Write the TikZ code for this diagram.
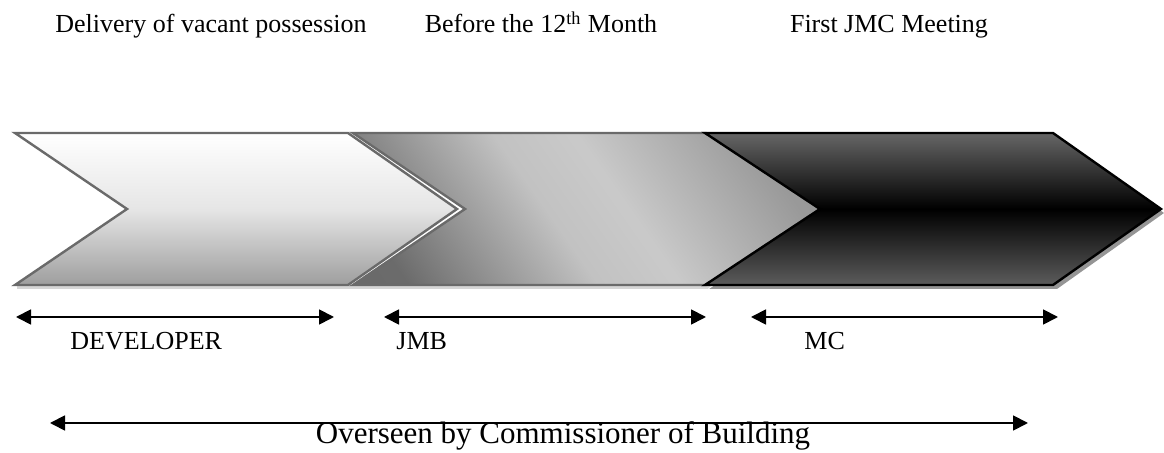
\documentclass[tikz,border=0pt]{standalone}
\usepackage{fontspec}
\setmainfont{Liberation Serif}
\usetikzlibrary{arrows.meta}

\definecolor{edgegrey}{HTML}{6A6A6A}
\definecolor{shadegrey}{HTML}{D6D6D6}
\definecolor{darkshade}{HTML}{959595}
\newcommand{\lbl}{\fontsize{13}{15}\selectfont}
\pgfdeclareverticalshading{jmbshade}{100bp}{color(0bp)=(black!60); color(22bp)=(black!58);
  color(45bp)=(black!24); color(55bp)=(black!21); color(76bp)=(black!40); color(100bp)=(black!45)}

\begin{document}
\begin{tikzpicture}[x=0.5pt, y=-0.5pt,
    stage/.style={line width=1.2pt, line join=miter},
    span/.style={line width=0.9pt, arrows={Triangle[length=7.5pt,width=7.5pt]-Triangle[length=7.5pt,width=7.5pt]}},
    tag/.style={font=\lbl, anchor=base, inner sep=0pt}]
  \useasboundingbox (0,0) rectangle (1164,453);
  % shadows
  \fill[shadegrey] (17,289) -- (352,289) -- (360,285) -- (17,285) -- cycle;
  \fill[shadegrey] (352,289) -- (708,289) -- (712,285) -- (352,285) -- cycle;
  \fill[darkshade, shift={(4,4)}] (705,133) -- (1053,133) -- (1160,209) -- (1053,285) -- (705,285) -- (820,209) -- cycle;
  % stages
  \draw[stage, draw=edgegrey, top color=white, bottom color=black!38, middle color=white!90!black]
    (15,133) -- (348,133) -- (457,209) -- (348,285) -- (15,285) -- (127,209) -- cycle;
  \draw[stage, draw=edgegrey, shading=jmbshade, shading angle=-55]
    (353,133) -- (706,133) -- (820,209) -- (706,285) -- (353,285) -- (465,209) -- cycle;
  \draw[stage, draw=black, top color=black!60, bottom color=black!64, middle color=black]
    (705,133) -- (1053,133) -- (1161,209) -- (1053,285) -- (705,285) -- (820,209) -- cycle;
  % headings
  \node[tag] (delivery) at (211,33) {Delivery of vacant possession};
  \node[tag] (month) at (541,33) {Before the 12\textsuperscript{th} Month};
  \node[tag] (meeting) at (889,33) {First JMC Meeting};
  % spans
  \coordinate (d1) at (16,317);
  \coordinate (d2) at (334,317);
  \coordinate (j1) at (384,317);
  \coordinate (j2) at (706,317);
  \coordinate (m1) at (751,317);
  \coordinate (m2) at (1058,317);
  \coordinate (o1) at (50,423);
  \coordinate (o2) at (1028,423);
  \draw[span] (d1) -- (d2);
  \draw[span] (j1) -- (j2);
  \draw[span] (m1) -- (m2);
  \draw[span] (o1) -- (o2);
  \node[tag, anchor=base west] (developer) at (70,350) {DEVELOPER};
  \node[tag, anchor=base west] (jmb) at (396,350) {JMB};
  \node[tag, anchor=base west] (mc) at (804,350) {MC};
  \node[tag, font=\fontsize{15.5}{18}\selectfont] (overseen) at (563,444) {Overseen by Commissioner of Building};
\end{tikzpicture}
\end{document}
